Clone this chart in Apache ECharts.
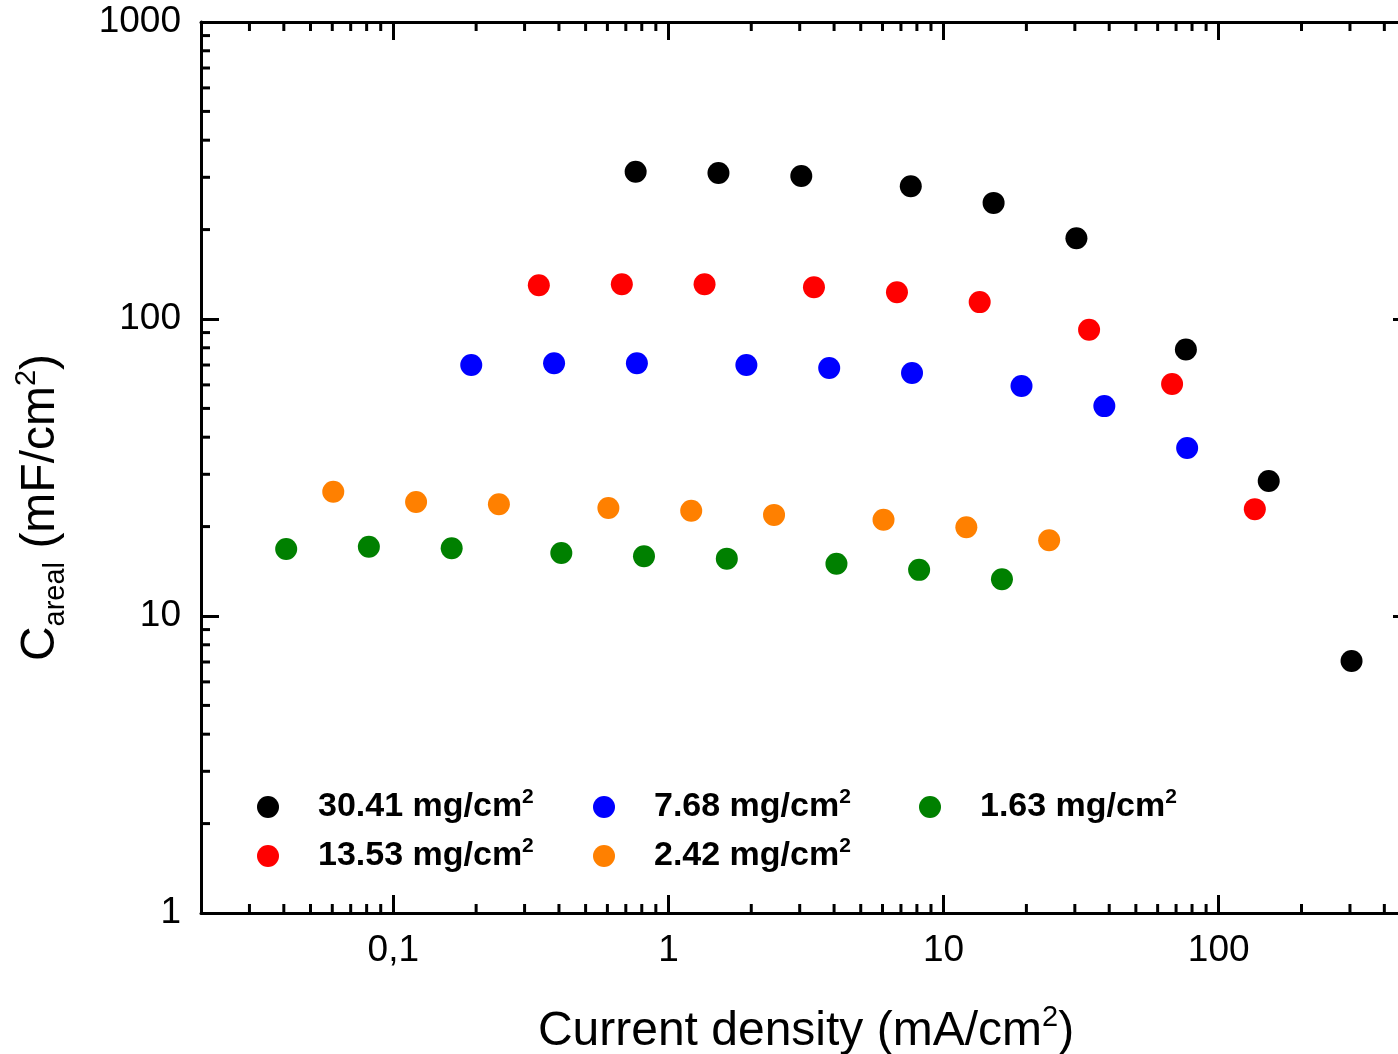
<!DOCTYPE html>
<html>
<head>
<meta charset="utf-8">
<script src="https://cdn.jsdelivr.net/npm/echarts@6/dist/echarts.min.js"></script>
<style>
html,body{margin:0;padding:0;background:#fff;}
#chart{width:1398px;height:1054px;}
</style>
</head>
<body>
<div id="chart"></div>
<script>
// ---- data (current density mA/cm2, areal capacitance mF/cm2) ----
const names = ['30.41', '13.53', '7.68', '2.42', '1.63'];
const colors = ['#000000', '#ff0000', '#0000ff', '#ff8000', '#008000'];

const cd30 = [0.76, 1.52, 3.04, 7.6, 15.2, 30.4, 76, 152, 304];
const cap30 = [313, 310, 303, 280, 246, 187, 79, 28.5, 7.06];

const cd13 = [0.338, 0.677, 1.353, 3.38, 6.77, 13.53, 33.8, 67.7, 135.3];
const cap13 = [130, 131, 131, 128, 123, 114, 92, 60.4, 22.9];

const cd7 = [0.192, 0.384, 0.768, 1.92, 3.84, 7.68, 19.2, 38.4, 76.8];
const cap7 = [70, 71, 71, 70, 68.4, 65.8, 59.5, 50.9, 36.8];

const cd2 = [0.0605, 0.121, 0.242, 0.605, 1.21, 2.42, 6.05, 12.1, 24.2];
const cap2 = [26.2, 24.2, 23.8, 23.1, 22.6, 21.9, 21.1, 19.9, 18.0];

const cd1 = [0.0408, 0.0815, 0.163, 0.408, 0.815, 1.63, 4.08, 8.15, 16.3];
const cap1 = [16.8, 17.1, 16.9, 16.3, 15.9, 15.6, 15.0, 14.3, 13.3];

const xTicks = [0.1, 1, 10, 100];
const xTickLabels = ['0,1', '1', '10', '100'];
const yTicks = [1, 10, 100, 1000];
const yTickLabels = ['1', '10', '100', '1000'];

const xMin = 0.02, xMax = 500, yMin = 1, yMax = 1000;

// ---- minor tick values of the log axes ----
function minorValues(lo, hi) {
  const out = [];
  for (let k = -3; k <= 4; k++) {
    for (let m = 2; m <= 9; m++) {
      const v = parseFloat((m * Math.pow(10, k)).toPrecision(3));
      if (v > lo && v < hi) out.push(v);
    }
  }
  return out;
}
const minorX = minorValues(xMin, xMax);
const minorY = minorValues(yMin, yMax);

const FONT = 'Liberation Sans';
const pairs = (xs, ys) => xs.map((x, i) => [x, ys[i]]);
const seriesData = [pairs(cd30, cap30), pairs(cd13, cap13), pairs(cd7, cap7), pairs(cd2, cap2), pairs(cd1, cap1)];

const chart = echarts.init(document.getElementById('chart'), null, {renderer: 'canvas'});

const legendRich = {
  b: {fontFamily: FONT, fontWeight: 'bold', fontSize: 34, lineHeight: 40, color: '#000'},
  s: {fontFamily: FONT, fontWeight: 'bold', fontSize: 21, lineHeight: 28, verticalAlign: 'top', color: '#000'}
};
function mkLegend(data, left) {
  return {
    data: data, left: left, top: 787, orient: 'vertical',
    itemWidth: 22, itemHeight: 22, itemGap: 12, padding: 0, icon: 'circle',
    selectedMode: false,
    formatter: n => '{b|' + n + ' mg/cm}{s|2}',
    textStyle: {padding: [0, 0, 0, 34], rich: legendRich}
  };
}

const axisLineStyle = {show: true, lineStyle: {color: '#000', width: 3}};
const majorTick = (vals) => ({show: true, inside: true, length: 18, customValues: vals, lineStyle: {color: '#000', width: 3}});

const option = {
  backgroundColor: '#ffffff',
  animation: false,
  grid: {left: 201, top: 22, width: 1210, height: 891, containLabel: false, outerBoundsMode: 'none'},
  legend: [mkLegend([names[0], names[1]], 257), mkLegend([names[2], names[3]], 593), mkLegend([names[4]], 919)],
  xAxis: [
    {
      type: 'log', logBase: 10, min: xMin, max: xMax, position: 'bottom',
      axisLine: axisLineStyle, axisTick: majorTick(xTicks), splitLine: {show: false},
      axisLabel: {
        show: true, customValues: xTicks, margin: 19,
        fontFamily: FONT, fontSize: 37, color: '#000', lineHeight: 37,
        formatter: v => { const i = xTicks.findIndex(t => Math.abs(t - v) / t < 1e-6); return i >= 0 ? xTickLabels[i] : ''; }
      },
      name: '{t|Current density (mA/cm}{s|2}{t|)}',
      nameLocation: 'middle', nameGap: 90,
      nameTextStyle: {
        rich: {
          t: {fontFamily: FONT, fontSize: 48, lineHeight: 58, color: '#000'},
          s: {fontFamily: FONT, fontSize: 29, lineHeight: 28, verticalAlign: 'top', color: '#000'}
        }
      }
    },
    {
      type: 'log', logBase: 10, min: xMin, max: xMax, position: 'top',
      axisLine: axisLineStyle, axisTick: majorTick(xTicks), axisLabel: {show: false}, splitLine: {show: false}
    }
  ],
  yAxis: [
    {
      type: 'log', logBase: 10, min: yMin, max: yMax, position: 'left',
      axisLine: axisLineStyle, axisTick: majorTick(yTicks), splitLine: {show: false},
      axisLabel: {
        show: true, customValues: yTicks, margin: 20,
        fontFamily: FONT, fontSize: 37, color: '#000',
        formatter: v => { const i = yTicks.findIndex(t => Math.abs(t - v) / t < 1e-6); return i >= 0 ? yTickLabels[i] : ''; }
      },
      name: '{t|C}{u|areal}{t| (mF/cm}{s|2}{t|)}',
      nameLocation: 'middle', nameGap: 131, nameRotate: 90,
      nameTextStyle: {
        padding: [0, 80, 0, 0],
        rich: {
          t: {fontFamily: FONT, fontSize: 48, lineHeight: 58, color: '#000'},
          u: {fontFamily: FONT, fontSize: 29, lineHeight: 30, verticalAlign: 'bottom', color: '#000'},
          s: {fontFamily: FONT, fontSize: 29, lineHeight: 28, verticalAlign: 'top', color: '#000'}
        }
      }
    },
    {
      type: 'log', logBase: 10, min: yMin, max: yMax, position: 'right',
      axisLine: axisLineStyle, axisTick: majorTick(yTicks), axisLabel: {show: false}, splitLine: {show: false}
    }
  ],
  series: names.map((n, i) => ({
    name: n, type: 'scatter', xAxisIndex: 0, yAxisIndex: 0,
    symbol: 'circle', symbolSize: 22,
    itemStyle: {color: colors[i], opacity: 1},
    data: seriesData[i], z: 3
  })).concat([{
    type: 'custom', name: 'minorTicks', xAxisIndex: 0, yAxisIndex: 0,
    silent: true, clip: false, z: 4,
    data: [[1, 10]],
    renderItem: function (params, api) {
      const bl = api.coord([xMin, yMin]);
      const tr = api.coord([xMax, yMax]);
      const ch = [];
      const ln = (x1, y1, x2, y2) => ({type: 'line', shape: {x1, y1, x2, y2}, style: {stroke: '#000', lineWidth: 3}});
      minorX.forEach(v => {
        const p = api.coord([v, yMin]);
        ch.push(ln(p[0], bl[1], p[0], bl[1] - 9));
        ch.push(ln(p[0], tr[1], p[0], tr[1] + 9));
      });
      minorY.forEach(v => {
        const p = api.coord([xMin, v]);
        ch.push(ln(bl[0], p[1], bl[0] + 9, p[1]));
        ch.push(ln(tr[0], p[1], tr[0] - 9, p[1]));
      });
      return {type: 'group', children: ch};
    }
  }])
};
chart.setOption(option);
</script>
</body>
</html>
